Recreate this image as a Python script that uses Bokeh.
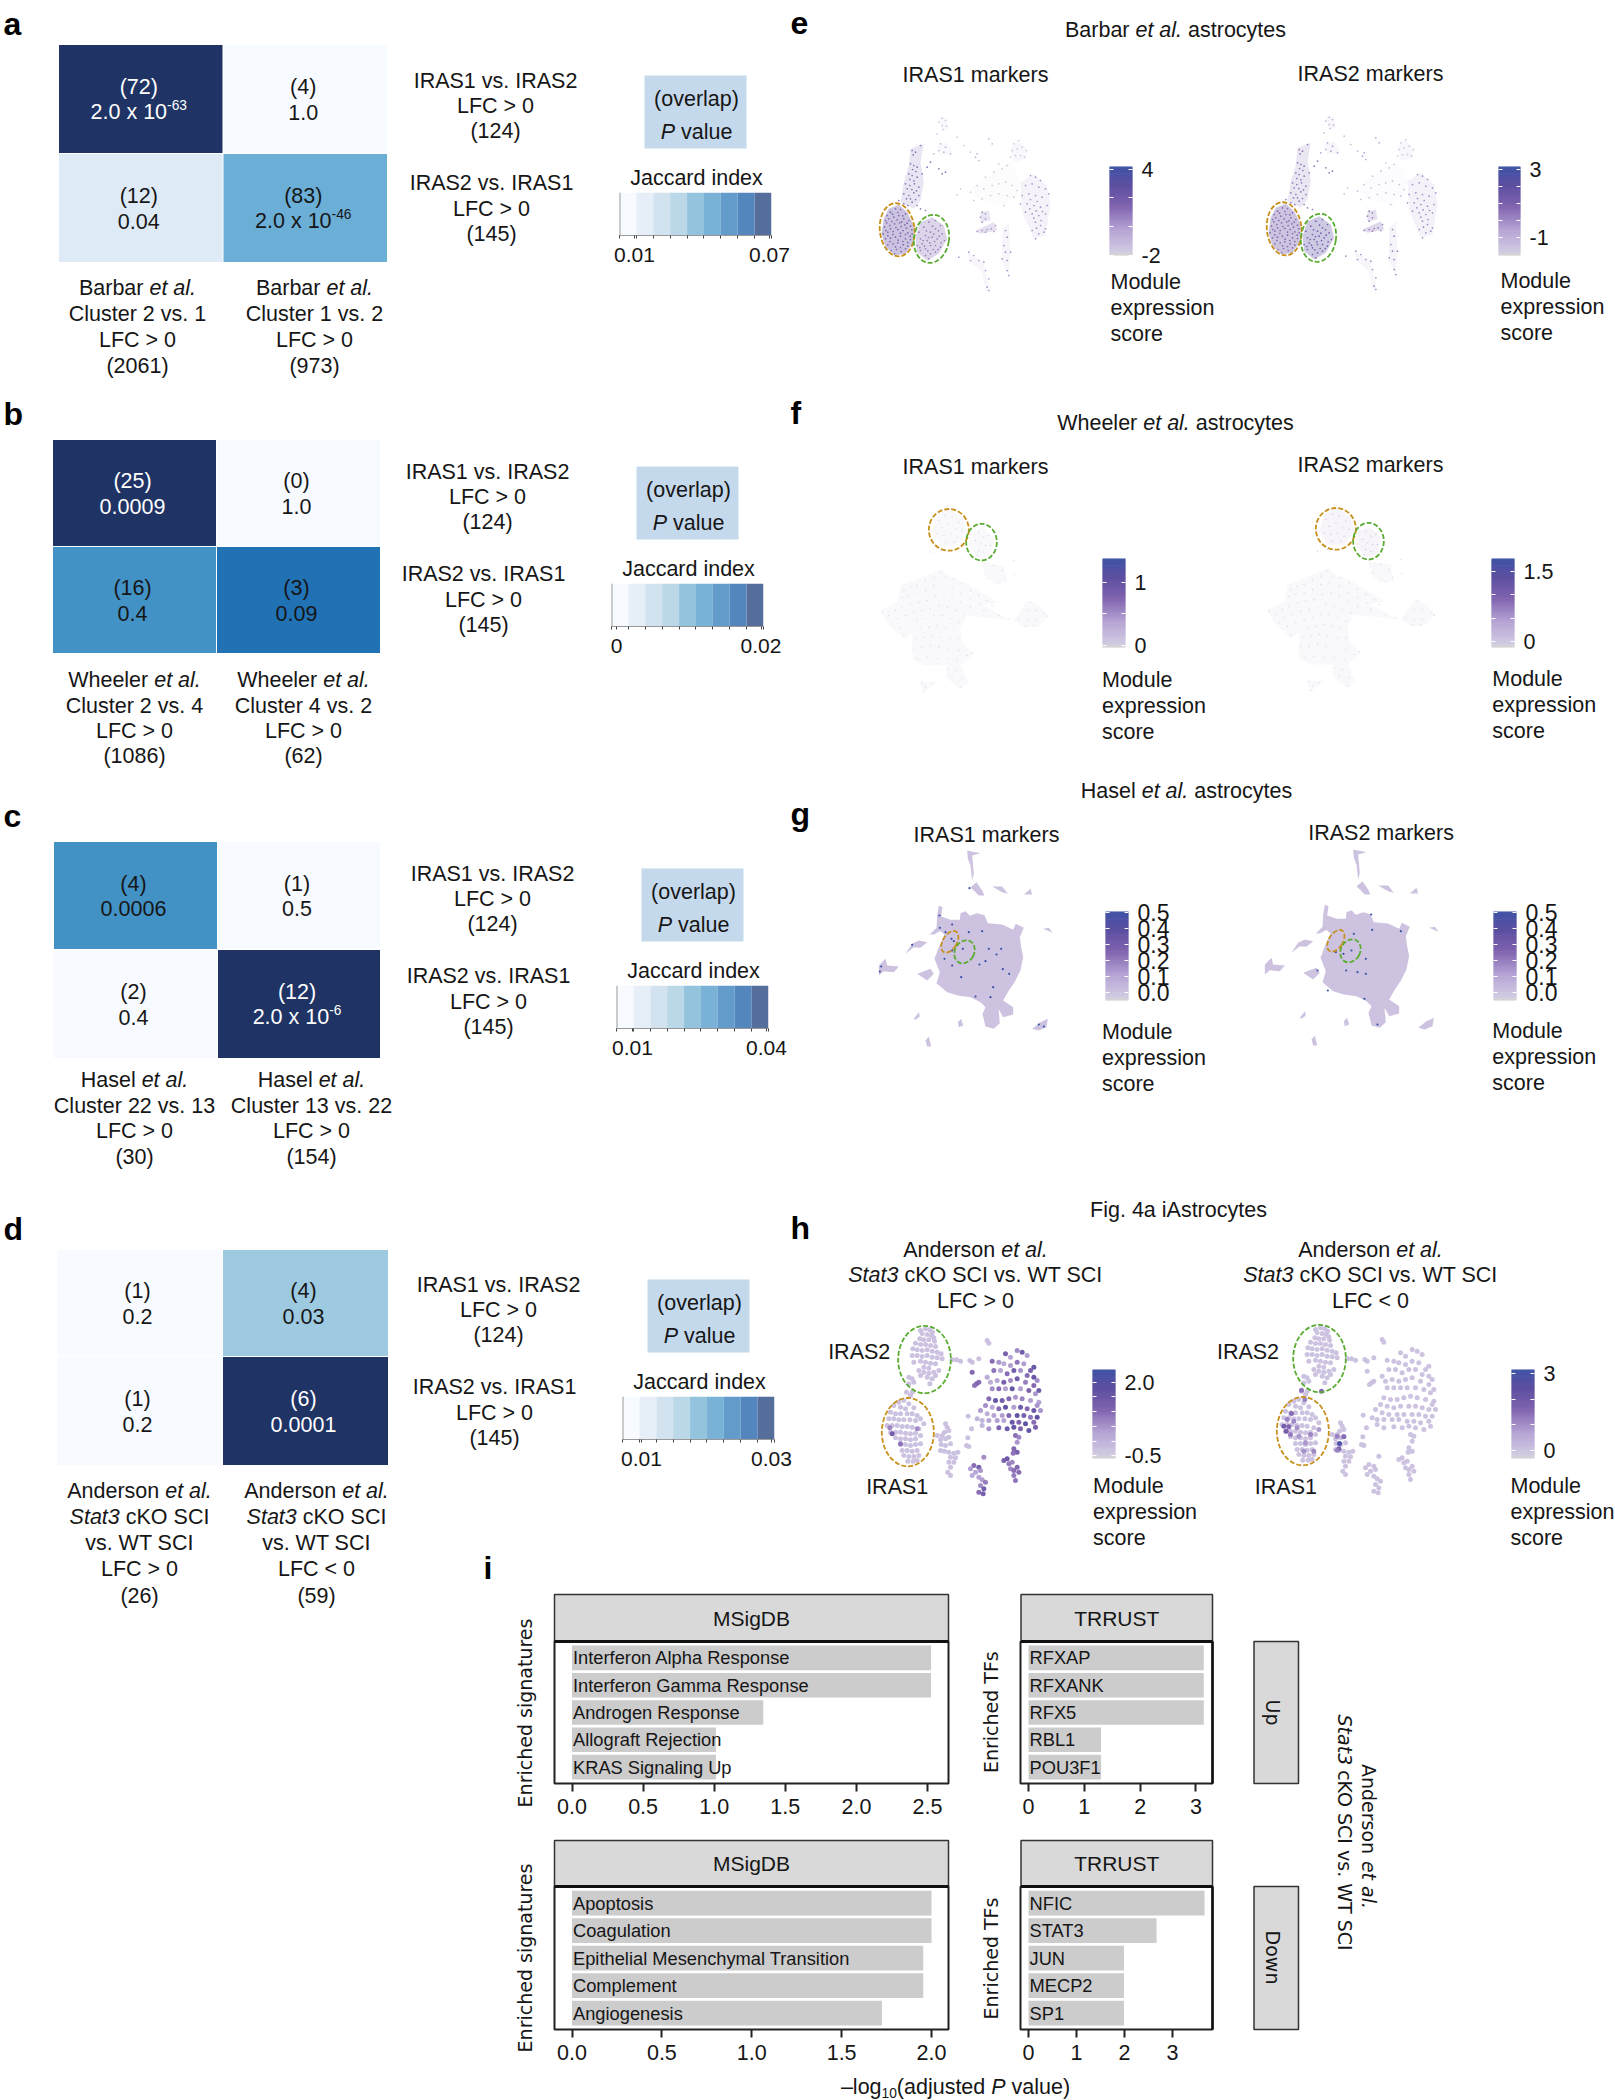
import math
from bokeh.core.properties import value
from bokeh.embed import file_html
from bokeh.layouts import column
from bokeh.models import (ColumnDataSource, FactorRange, FixedTicker, LinearAxis, LinearColorMapper,
                          Range1d)
from bokeh.plotting import figure
from bokeh.resources import INLINE
from bokeh.transform import transform

SANS = "Liberation Sans"
WIDE = "DejaVu Sans"
TXT = "#161616"

# ---------- heatmap data ----------
HEAT_A = ["#1f3464", "#f7fbff", "#deeaf6", "#6baed6"]
HEAT_B = ["#1f3464", "#f7fbff", "#4292c6", "#2171b5"]
HEAT_C = ["#4292c6", "#f7fbff", "#f7fbff", "#1f3464"]
HEAT_D = ["#f7fbff", "#9ecae1", "#f7fbff", "#1f3464"]
OVERLAP_A = ["(72)", "(4)", "(12)", "(83)"]
OVERLAP_B = ["(25)", "(0)", "(16)", "(3)"]
OVERLAP_C = ["(4)", "(1)", "(2)", "(12)"]
OVERLAP_D = ["(1)", "(4)", "(1)", "(6)"]
PVAL_A = [("2.0 x 10", "-63"), ("1.0", ""), ("0.04", ""), ("2.0 x 10", "-46")]
PVAL_B = [("0.0009", ""), ("1.0", ""), ("0.4", ""), ("0.09", "")]
PVAL_C = [("0.0006", ""), ("0.5", ""), ("0.4", ""), ("2.0 x 10", "-6")]
PVAL_D = [("0.2", ""), ("0.03", ""), ("0.2", ""), ("0.0001", "")]
JACCARD_STEPS = ["#f7fbff", "#e6eff7", "#d3e2ef", "#bad8e7", "#94c3de", "#79b2d6", "#639ccb", "#5286bd", "#566e9b"]

# ---------- bar data ----------
UP_SIG = ["Interferon Alpha Response", "Interferon Gamma Response", "Androgen Response", "Allograft Rejection", "KRAS Signaling Up"]
UP_SIG_V = [2.525, 2.525, 1.345, 1.012, 1.012]
UP_TF = ["RFXAP", "RFXANK", "RFX5", "RBL1", "POU3F1"]
UP_TF_V = [3.14, 3.14, 3.14, 1.30, 1.30]
DN_SIG = ["Apoptosis", "Coagulation", "Epithelial Mesenchymal Transition", "Complement", "Angiogenesis"]
DN_SIG_V = [2.0, 2.0, 1.954, 1.954, 1.724]
DN_TF = ["NFIC", "STAT3", "JUN", "MECP2", "SP1"]
DN_TF_V = [3.67, 2.67, 1.99, 1.99, 1.99]

# ---------- embeddings (in units of 1/3 px) ----------
BARBAR_REGIONS = {
 "r1": [(40,340),(55,310),(85,298),(110,320),(130,360),(128,410),(105,445),(75,450),(45,425),(33,385)],
 "r2": [(135,395),(150,350),(185,335),(220,360),(230,400),(205,445),(170,465),(140,440)],
 "r3": [(120,130),(160,115),(150,170),(160,230),(150,285),(130,310),(90,290),(100,230),(115,180)],
 "r4": [(450,230),(490,205),(530,240),(540,300),(525,390),(490,400),(455,320)],
 "r5": [(420,130),(440,105),(470,130),(465,160),(430,170)],
 "r6": [(205,40),(230,35),(235,70),(215,75)],
 "r7": [(200,120),(230,110),(250,145),(210,150)],
 "r8": [(330,320),(355,315),(360,345),(330,350)],
 "r8b": [(315,375),(370,350),(380,375),(330,385)],
 "r9": [(300,250),(380,190),(420,170),(450,230),(440,270),(400,300),(320,280)],
 "r10": [(290,440),(340,470),(350,520),(360,555),(345,555),(335,500),(300,470)],
 "r11": [(395,370),(415,350),(420,450),(415,510),(395,470)],
}
BARBAR_ALPHA = {"r1":0.36,"r2":0.3,"r3":0.16,"r4":0.1,"r5":0.12,"r6":0.1,"r7":0.08,"r8":0.22,"r8b":0.25,"r9":0.05,"r10":0.08,"r11":0.08}
BARBAR_PTS = {
 "r1": [(45,345),(60,320),(75,310),(90,312),(105,325),(55,340),(70,335),(85,330),(100,340),(115,345),(42,365),(58,360),(72,355),(88,352),(103,358),(120,362),(38,385),(52,380),(68,378),(82,372),(98,375),(112,382),(125,385),(45,400),(60,398),(75,395),(90,392),(105,400),(120,402),(52,418),(68,415),(82,412),(98,418),(112,422),(62,435),(78,432),(92,438),(72,445),(50,330),(66,326),(82,321),(97,331),(49,352),(64,348),(80,343),(94,349),(110,353),(46,375),(60,370),(76,366),(92,363),(108,368),(124,373),(52,391),(67,387),(90,383),(105,387),(119,392),(58,408),(83,404),(97,408),(112,411),(75,424),(90,426),(105,430)],
 "r2": [(145,380),(160,365),(175,350),(195,345),(210,360),(150,400),(165,390),(180,380),(195,370),(215,385),(140,420),(155,415),(170,405),(185,395),(200,400),(222,405),(150,435),(165,430),(180,420),(195,420),(210,425),(165,450),(180,445),(195,440),(175,460),(168,376),(186,362),(204,376),(158,405),(174,396),(190,386),(206,392),(148,426),(162,422),(178,412),(192,408),(212,412),(172,436),(188,432),(203,432)],
 "r3": [(125,135),(135,140),(150,120),(120,175),(130,180),(140,185),(115,205),(125,210),(140,215),(155,205),(105,235),(118,240),(132,235),(145,245),(100,265),(115,270),(130,262),(145,270),(85,285),(100,295),(125,290),(140,300),(150,310),(170,185),(180,170),(165,315),(205,190),(215,205),(225,200),(128,148),(126,192),(136,198),(118,222),(130,226),(110,250),(124,252),(138,256),(108,280),(120,280),(135,282),(112,300)],
 "r4": [(480,210),(495,215),(510,225),(465,240),(485,235),(505,245),(525,250),(455,270),(475,265),(495,270),(515,275),(535,265),(450,295),(470,295),(490,300),(510,305),(530,300),(465,320),(485,325),(505,330),(525,325),(495,350),(510,360),(525,370),(485,375),(505,385),(520,380),(495,400),(480,282),(500,288),(478,310),(497,316),(516,318),(490,338),(512,345),(498,368)],
 "r5": [(430,115),(445,105),(425,135),(440,130),(455,125),(468,135),(420,155),(435,150),(450,150),(462,155),(410,180),(385,175)],
 "r6": [(215,38),(225,45),(205,50),(215,60),(228,62),(218,72),(200,85),(260,95),(280,120),(300,140)],
 "r7": [(210,115),(225,125),(205,135),(220,140),(240,145),(190,145),(320,145),(315,155),(325,165),(355,100),(365,115)],
 "r8": [(335,320),(345,325),(330,335),(345,340),(335,350),(320,378),(335,375),(350,372),(362,370),(375,360),(345,380),(370,378)],
 "r9": [(300,260),(320,240),(345,215),(370,200),(395,190),(340,250),(365,240),(385,235),(405,230),(425,240),(310,285),(335,280),(360,270),(385,265),(410,270),(430,275),(440,255),(270,250),(260,268),(400,300)],
 "r10": [(295,440),(310,450),(325,465),(340,470),(300,465),(345,495),(355,520),(350,545),(355,555),(265,455)],
 "r11": [(405,375),(410,395),(400,420),(405,440),(395,460),(410,465),(420,440),(410,495),(415,510)],
}
BARBAR_S1 = {"r1":2.0,"r2":1.0,"r3":1.6,"r4":0.6,"r5":-1.2,"r6":-1.2,"r7":-0.3,"r8":0.4,"r8b":0.6,"r9":-1.2,"r10":0.4,"r11":0.8}
BARBAR_S2 = {"r1":1.1,"r2":1.8,"r3":0.8,"r4":0.3,"r5":-1.3,"r6":-0.8,"r7":-0.2,"r8":0.5,"r8b":0.8,"r9":-1.0,"r10":0.3,"r11":0.6}

WHEELER_REGIONS = {
 "w1": [(200,60),(235,40),(280,70),(290,110),(260,150),(210,150),(185,110)],
 "w2": [(300,110),(335,95),(370,130),(360,180),(325,190),(295,150)],
 "w3": [(215,220),(90,270),(80,320),(30,345),(50,385),(100,430),(125,415),(125,490),(160,510),(230,510),(225,545),(270,580),(295,560),(270,510),(310,475),(275,440),(270,400),(290,360),(420,375),(340,330),(380,320),(290,265),(225,235)],
 "w4": [(430,375),(470,315),(500,325),(535,360),(500,395),(460,395)],
 "w5": [(145,560),(200,560),(160,590)],
 "w6": [(330,200),(400,210),(410,260),(370,265),(345,240)],
}
WHEELER_PTS = {
 "w1": [(205,75),(225,60),(245,65),(265,80),(215,95),(235,85),(255,100),(275,105),(200,115),(220,120),(240,115),(260,125),(225,140),(250,140),(230,32),(210,165),(180,170)],
 "w2": [(325,110),(340,125),(355,120),(315,135),(330,145),(345,150),(360,150),(325,165),(340,170),(320,180)],
 "w3": [(100,285),(120,275),(140,270),(165,255),(190,245),(210,230),(225,245),(250,250),(275,265),(300,285),(325,300),(350,315),(95,305),(115,300),(140,295),(165,285),(190,270),(215,265),(245,275),(270,295),(300,310),(330,325),(365,330),(75,345),(95,335),(120,325),(145,320),(170,315),(195,300),(220,295),(245,305),(270,320),(300,335),(340,345),(385,360),(415,370),(35,350),(55,360),(80,370),(105,360),(130,350),(155,345),(180,340),(205,330),(230,335),(255,345),(280,355),(65,385),(90,395),(115,385),(140,375),(165,370),(190,360),(215,360),(240,370),(265,380),(100,420),(150,400),(175,395),(200,390),(225,395),(250,400),(135,430),(160,425),(185,420),(210,425),(240,430),(265,430),(130,460),(155,455),(180,450),(205,455),(235,460),(265,465),(290,480),(305,472),(140,490),(170,485),(200,490),(230,490),(260,495),(230,520),(255,525),(275,550),(245,545),(270,575)],
 "w4": [(480,320),(470,345),(495,345),(520,355),(445,370),(470,375),(495,375),(530,362),(465,392),(490,390)],
 "w5": [(155,560),(165,575),(185,565),(158,588)],
 "w6": [(345,235),(350,250),(370,210),(395,225),(385,262),(405,250),(432,238),(430,195)],
}
WHEELER_S1 = {"w1":0.06,"w2":0.08,"w3":0.02,"w4":0.02,"w5":0.02,"w6":0.02}
WHEELER_S2 = {"w1":0.3,"w2":0.28,"w3":0.0,"w4":0.0,"w5":0.0,"w6":0.0}

HASEL_REGIONS = {
 "main": [(205,195),(216,200),(212,228),(240,238),(268,238),(270,218),(285,212),(298,226),(320,218),(342,224),(352,248),(395,252),(428,268),(436,250),(460,262),(448,290),(452,320),(458,350),(450,390),(432,425),(415,450),(398,480),(428,500),(428,522),(398,530),(384,505),(388,548),(370,565),(345,558),(336,520),(345,500),(330,485),(300,470),(262,465),(230,455),(198,428),(208,395),(192,355),(205,320),(222,282),(198,262),(200,225)],
 "top": [(290,30),(330,38),(305,45),(310,100),(305,120),(300,75),(292,55)],
 "top2": [(300,140),(318,125),(335,150),(342,165),(325,165)],
 "right1": [(365,138),(395,138),(412,160),(395,155)],
 "right2": [(460,162),(480,145),(485,162)],
 "right3": [(518,265),(535,262),(546,277)],
 "arm": [(105,340),(125,310),(145,300),(170,305),(150,322),(130,320)],
 "leftbig": [(25,375),(45,355),(50,375),(85,378),(70,395),(40,392),(25,405)],
 "lowleft": [(140,400),(180,385),(190,400),(170,420)],
 "b1": [(130,535),(145,515),(148,528),(135,538)],
 "b2": [(262,545),(272,535),(278,555),(265,560)],
 "bottom": [(165,600),(175,588),(182,618),(170,618)],
 "br": [(485,565),(510,545),(532,535),(528,560),(505,570)],
 "link": [(178,282),(205,255),(212,270),(190,282)],
}
HASEL_DOTS_1 = [(297,143),(207,225),(208,262),(225,275),(245,252),(295,275),(335,272),(243,295),(250,302),(277,325),(245,330),(125,313),(355,325),(392,325),(378,342),(345,362),(327,372),(245,375),(397,386),(416,400),(272,410),(368,440),(315,468),(360,470),(505,552),(520,558),(32,378),(28,393),(222,355)]
HASEL_DOTS_2 = [(292,283),(344,225),(433,275),(285,333),(261,343),(238,338),(328,358),(269,393),(303,398),(328,403),(183,393),(214,453),(324,478),(363,555),(347,271)]

AND_IRAS2 = [(150,30),(165,25),(178,28),(186,35),(155,40),(170,42),(183,45),(190,52),(148,55),(160,58),(175,58),(192,62),(135,68),(150,72),(165,72),(180,75),(195,78),(127,85),(140,88),(155,90),(170,88),(185,92),(200,95),(212,100),(125,105),(140,105),(155,108),(170,105),(185,110),(200,112),(215,115),(130,125),(150,122),(165,125),(180,128),(195,130),(160,140),(175,143),(145,150),(160,155),(175,158),(190,155),(205,150),(150,165),(170,170),(185,175),(195,165),(115,170),(125,175),(130,185),(115,190),(178,190),(120,225),(125,215)]
AND_IRAS1 = [(100,240),(85,245),(115,250),(70,255),(90,260),(105,265),(130,262),(60,275),(75,280),(90,280),(110,280),(125,280),(140,285),(55,295),(70,295),(85,298),(100,298),(118,298),(135,300),(150,295),(160,310),(50,315),(65,315),(80,315),(95,318),(110,318),(125,320),(145,325),(60,335),(75,335),(90,335),(105,338),(120,340),(135,338),(75,352),(90,355),(105,355),(120,358),(135,355),(150,345),(90,372),(105,372),(120,375),(135,372),(150,370),(95,390),(110,390),(125,392),(140,390),(100,405),(115,408),(130,408),(145,405),(112,422),(128,422),(140,420)]
AND_SIDE = [(225,310),(230,320),(222,335),(235,330),(215,345),(200,345),(210,358),(225,355),(235,350),(212,372),(225,375),(240,370),(210,390),(222,392),(235,395),(250,398),(240,410),(255,412),(235,425),(250,425),(240,440),(232,455),(240,465),(262,395)]
AND_LINK = [(350,60),(355,68),(245,118),(258,118),(270,122),(298,120),(305,125),(325,115),(293,287),(292,352),(288,375),(295,378),(303,325),(108,215)]
AND_BIG = [(365,122,1.0),(385,125,0.5),(405,100,1.3),(420,110,0.3),(440,90,0.6),(455,95,1.5),(470,105,0.4),(490,140,1.6),(400,130,0.2),(420,135,0.4),(440,125,0.9),(460,130,0.4),(480,150,1.3),(350,170,0.2),(370,150,0.9),(390,150,0.3),(410,160,1.0),(430,150,1.4),(450,150,0.5),(470,165,1.0),(490,170,1.7),(500,180,0.6),(360,185,0.1),(380,180,0.3),(400,185,1.3),(420,180,0.6),(440,175,1.5),(465,185,0.8),(490,195,1.1),(505,210,1.4),(365,205,0.6),(385,205,1.0),(405,205,0.4),(425,205,1.7),(450,205,0.4),(475,210,1.2),(495,220,0.5),(505,245,0.3),(355,235,1.0),(375,240,1.7),(395,240,1.4),(415,235,1.1),(435,230,0.5),(455,235,0.7),(480,240,0.4),(500,255,0.5),(345,255,0.6),(365,260,0.2),(385,265,1.0),(405,260,1.8),(430,260,0.4),(450,260,1.5),(470,265,1.1),(490,270,1.6),(510,270,0.5),(330,270,0.4),(350,280,0.1),(370,285,0.3),(395,285,0.4),(415,285,1.1),(440,285,1.7),(460,285,1.3),(480,290,0.9),(500,290,1.8),(320,295,0.0),(335,300,0.0),(355,300,0.3),(380,300,0.4),(400,300,0.3),(425,305,1.6),(445,305,1.2),(465,310,1.8),(490,305,1.0),(335,315,0.0),(355,325,0.5),(385,322,1.2),(410,325,1.5),(430,320,1.7),(450,325,1.2),(475,330,1.7),(495,320,1.3)]
AND_LOWER = [(435,345,1.0),(445,350,0.7),(440,365,0.5),(430,385,1.1),(440,395,1.3),(428,398,0.9),(410,415,1.6),(400,420,1.3),(415,430,0.8),(425,425,0.7),(420,445,0.6),(430,450,1.0),(440,440,1.1),(445,455,1.0),(430,465,0.8),(435,480,0.9),(340,410,0.6),(310,435,1.0),(325,440,1.4),(300,445,0.4),(330,450,0.5),(315,455,0.3),(305,465,0.2),(325,470,0.3),(335,478,0.4),(345,485,0.8),(330,495,0.6),(340,505,1.4),(325,515,1.0),(338,520,1.3),(305,155,1.1),(318,190,1.2),(325,185,1.0),(312,195,0.9)]
AND_HI_LEFT = [(65,340,1.4),(90,370,0.9),(58,322,0.7),(140,325,0.6)]
AND_HI_RIGHT = [(65,300,1.2),(78,282,1.5),(55,320,2.0),(70,322,1.7),(85,305,1.1),(62,335,1.9),(75,345,1.3),(95,325,1.0),(100,350,0.9),(120,370,0.9),(135,345,1.1),(145,395,1.1),(160,330,0.9),(215,350,1.2),(222,372,2.9),(220,388,1.8),(235,352,1.5),(215,392,1.2),(115,395,1.0),(108,212,1.4),(168,215,1.6),(118,240,1.2)]

GRADIENT_STOPS = [(0.0,(211,211,211)),(0.05,(208,200,226)),(0.3,(178,160,210)),(0.55,(126,96,174)),(0.8,(88,74,158)),(1.0,(60,80,165))]


def grad(n=128):
    out = []
    for i in range(n):
        t = i / (n - 1)
        for (t0, c0), (t1, c1) in zip(GRADIENT_STOPS, GRADIENT_STOPS[1:]):
            if t <= t1:
                f = (t - t0) / (t1 - t0)
                out.append("#%02x%02x%02x" % tuple(round(a + (b - a) * f) for a, b in zip(c0, c1)))
                break
    return out


PALETTE = grad()
HELV = {" ":278,"(":333,")":333,".":278,",":278,"-":333,">":584,"<":584,"–":556}
for ch in "0123456789": HELV[ch] = 556
HELV.update(dict(A=667,B=667,C=722,D=722,E=667,F=611,G=778,H=722,I=278,J=500,K=667,L=556,M=833,N=722,O=778,P=667,Q=778,R=722,S=667,T=611,U=722,V=667,W=944,X=667,Y=667,Z=611))
HELV.update(dict(a=556,b=556,c=500,d=556,e=556,f=278,g=556,h=556,i=222,j=222,k=500,l=222,m=833,n=556,o=556,p=556,q=556,r=333,s=500,t=278,u=556,v=500,w=722,x=500,y=500,z=500))
LEFT_PAD = 30  # Bokeh keeps at least this much room left of a frame here


def tw(s, size):
    return sum(HELV.get(c, 556) for c in s) * size / 1000


def base(w, h, xr, yr, **kw):
    # w, h: size of the plotting frame in pixels
    kw["min_border_left"] = LEFT_PAD
    for k in ("right", "top", "bottom"):
        kw.setdefault("min_border_" + k, 0)
    p = figure(frame_width=w, frame_height=h, x_range=xr, y_range=yr, toolbar_location=None, output_backend="svg", **kw)
    p.grid.visible = False
    p.background_fill_alpha = 0
    p.border_fill_alpha = 0
    p.outline_line_color = None
    return p


def place(p, x, y):
    # x, y: page position of the top left corner of the frame
    p.styles = {"position": "absolute", "left": f"{round(x) - LEFT_PAD}px", "top": f"{round(y)}px", "max-width": "none", "max-height": "none"}
    return p


figs = []
canvas = base(1615, 2100, Range1d(0, 1615), Range1d(2100, 0), x_axis_type=None, y_axis_type=None)
place(canvas, 0, 0)


def text(x, y, s, size=21.5, color=TXT, font=SANS, style="normal", align="center", angle=0, baseline="middle"):
    canvas.text([x], [y], text=[s], text_font=value(font), text_font_size=f"{size}px", text_color=color,
                text_font_style=style, text_align=align, text_baseline=baseline, angle=angle)


def rich(x, y, segs, size=21.5, color=TXT, font=SANS, angle=0, scale=1.0):
    """segs: (text, style[, 'sup'|'sub'])"""
    sizes = [size * 0.64 if len(s) > 2 else size for s in segs]
    widths = [tw(s[0], z) * scale for s, z in zip(segs, sizes)]
    total = sum(widths)
    ca, sa = math.cos(angle), math.sin(angle)
    pos = -total / 2
    for s, z, w in zip(segs, sizes, widths):
        dy = 0
        if len(s) > 2:
            dy = -size * 0.34 if s[2] == "sup" else size * 0.3
        label = s[0]
        lead = tw(label[:len(label) - len(label.lstrip())], z) * scale
        text(x + (pos + lead) * ca, y - (pos + lead) * sa + dy, label.strip(), z, color, font, s[1], "left", angle)
        pos += w


def lines(x, ys, items, **kw):
    for y, it in zip(ys, items):
        if isinstance(it, str):
            text(x, y, it, **kw)
        else:
            rich(x, y, it, **kw)


ET_AL = ("et al.", "italic")


def heat(x0, x1, xm, y0, y1, ym, colors, overlaps, pvals, dark):
    wl, wr = xm - x0, x1 - xm
    p = place(base(round(x1 - x0), round(y1 - y0), Range1d(0, x1 - x0), Range1d(y1 - y0, 0), x_axis_type=None, y_axis_type=None), x0, y0)
    src = ColumnDataSource(dict(
        cx=[wl / 2, wl + wr / 2, wl / 2, wl + wr / 2],
        cy=[(ym - y0) / 2, (ym - y0) / 2, (ym - y0) + (y1 - ym) / 2, (ym - y0) + (y1 - ym) / 2],
        w=[wl - 1, wr - 1, wl - 1, wr - 1],
        h=[ym - y0 - 1, ym - y0 - 1, y1 - ym - 1, y1 - ym - 1],
        c=colors))
    p.rect("cx", "cy", "w", "h", fill_color="c", line_color=None, source=src)
    figs.append(p)
    cxs = [x0 + wl / 2 - 2, xm + wr / 2 - 2]
    cys = [y0 + (ym - y0) / 2, ym + (y1 - ym) / 2]
    for i, (ov, pv) in enumerate(zip(overlaps, pvals)):
        cx, cy = cxs[i % 2], cys[i // 2]
        col = "#ffffff" if i in dark else TXT
        text(cx, cy - 12, ov, color=col)
        if pv[1]:
            rich(cx, cy + 13, [(pv[0], "normal"), (pv[1], "normal", "sup")], color=col)
        else:
            text(cx, cy + 13, pv[0], color=col)


def side_group(dx, dy, ticks, labels):
    # comparison text, P-value key and Jaccard legend, with positions relative to panel a
    lines(495 + dx, [80 + dy, 105 + dy, 130 + dy], ["IRAS1 vs. IRAS2", "LFC > 0", "(124)"])
    lines(491 + dx, [182 + dy, 208 + dy, 233 + dy], ["IRAS2 vs. IRAS1", "LFC > 0", "(145)"])
    canvas.quad(left=[644 + dx], right=[746 + dx], top=[75 + dy], bottom=[148 + dy], fill_color="#c5d9ec", line_color=None)
    text(696 + dx, 98 + dy, "(overlap)")
    rich(696 + dx, 131 + dy, [("P", "italic"), (" value", "normal")])
    text(696 + dx, 177 + dy, "Jaccard index")
    x0, x1 = 619 + dx, 771 + dx
    y0, y1 = 192 + dy, 235 + dy
    lo, hi = ticks
    plo, phi = labels
    per = (hi - lo) / (phi - plo)
    start = lo + (x0 - plo) * per
    end = lo + (x1 - plo) * per
    edges = [start + (end - start) * i / 9 for i in range(10)]
    p = base(round(x1 - x0), round(y1 - y0), Range1d(start, end), Range1d(0, 1), x_axis_type=None, y_axis_type=None,
             min_border_right=30, min_border_top=0, min_border_bottom=40)
    p.quad(left=edges[:-1], right=edges[1:], top=1, bottom=0, fill_color=JACCARD_STEPS, line_color=None)
    ax = LinearAxis(ticker=FixedTicker(ticks=[lo, hi], minor_ticks=edges), axis_line_color="#999999", axis_line_width=1,
                    major_tick_out=3, major_tick_in=0, minor_tick_out=3, minor_tick_in=0, major_tick_line_color="#444444",
                    minor_tick_line_color="#444444", major_label_text_font=SANS, major_label_text_font_size="21px",
                    major_label_text_color=TXT, major_label_standoff=9,
                    major_label_overrides={lo: ("%g" % lo), hi: ("%g" % hi)})
    p.add_layout(ax, "below")
    p.line([start, start], [0, 1], line_color="#999999", line_width=2)
    place(p, x0, y0)
    figs.append(p)


heat(58, 387, 222.5, 44, 262, 153, HEAT_A, OVERLAP_A, PVAL_A, {0})
side_group(0, 0, (0.01, 0.07), (634, 769))
lines(137, [287, 313, 339, 365], [[("Barbar ", "normal"), ET_AL], "Cluster 2 vs. 1", "LFC > 0", "(2061)"])
lines(314, [287, 313, 339, 365], [[("Barbar ", "normal"), ET_AL], "Cluster 1 vs. 2", "LFC > 0", "(973)"])

heat(52, 380, 216, 439, 653, 546, HEAT_B, OVERLAP_B, PVAL_B, {0})
side_group(-8, 391, (0.0, 0.02), (616, 760.5))
lines(134, [679, 705, 730, 755], [[("Wheeler ", "normal"), ET_AL], "Cluster 2 vs. 4", "LFC > 0", "(1086)"])
lines(303, [679, 705, 730, 755], [[("Wheeler ", "normal"), ET_AL], "Cluster 4 vs. 2", "LFC > 0", "(62)"])

heat(53, 380, 217, 841, 1058, 949, HEAT_C, OVERLAP_C, PVAL_C, {3})
side_group(-3, 793, (0.01, 0.04), (632, 766))
lines(134, [1079, 1105, 1130, 1156], [[("Hasel ", "normal"), ET_AL], "Cluster 22 vs. 13", "LFC > 0", "(30)"])
lines(311, [1079, 1105, 1130, 1156], [[("Hasel ", "normal"), ET_AL], "Cluster 13 vs. 22", "LFC > 0", "(154)"])

heat(56, 388, 222, 1249, 1465, 1356, HEAT_D, OVERLAP_D, PVAL_D, {3})
side_group(3, 1204, (0.01, 0.03), (641, 771))
stat = [("Stat3", "italic"), (" cKO SCI", "normal")]
lines(139, [1490, 1516, 1542, 1568, 1595], [[("Anderson ", "normal"), ET_AL], stat, "vs. WT SCI", "LFC > 0", "(26)"])
lines(316, [1490, 1516, 1542, 1568, 1595], [[("Anderson ", "normal"), ET_AL], stat, "vs. WT SCI", "LFC < 0", "(59)"])

for letter, x, y in [("a", 3, 23), ("b", 3, 413), ("c", 3, 815), ("d", 3, 1228), ("e", 790, 22), ("f", 790, 412), ("g", 790, 813), ("h", 790, 1227), ("i", 483, 1567)]:
    text(x, y, letter, 32, "#000000", SANS, "bold", "left", 0, "alphabetic")


def cbar(x0, x1, y0, y1, vlow, vhigh, ticks, labels, size=21.5):
    w, h = round(x1 - x0), round(y1 - y0)
    p = base(w, h, Range1d(0, 1), Range1d(vlow, vhigh), x_axis_type=None, y_axis_type=None,
             min_border_right=60, min_border_top=20, min_border_bottom=20)
    n = len(PALETTE)
    edges = [vlow + (vhigh - vlow) * i / n for i in range(n + 1)]
    p.quad(left=0, right=1, bottom=edges[:-1], top=edges[1:], fill_color=PALETTE, line_color=PALETTE, line_width=0.5)
    over = {t: (labels.get(t, "")) for t in ticks}
    ar = LinearAxis(ticker=FixedTicker(ticks=ticks), axis_line_color=None, major_tick_in=4, major_tick_out=0, major_tick_line_color="#ffffff",
                    major_tick_line_width=1, major_label_text_font=SANS, major_label_text_font_size=f"{size}px", major_label_text_color=TXT,
                    major_label_standoff=9, major_label_overrides=over)
    al = LinearAxis(ticker=FixedTicker(ticks=ticks), axis_line_color=None, major_tick_in=4, major_tick_out=0, major_tick_line_color="#ffffff",
                    major_label_text_font_size="0px", major_label_standoff=0, major_label_overrides={t: "" for t in ticks})
    p.add_layout(ar, "right")
    p.add_layout(al, "left")
    place(p, x0, y0 - 20)
    figs.append(p)


def mes(x, y):
    lines(x, [y, y + 26, y + 52], ["Module", "expression", "score"], align="left")


def umap(x, y, w, h, regions, rscores, pts, vmin, vmax, size=1.7, alpha=0.85, ralpha=None, ellipses=()):
    p = place(base(w, h, Range1d(0, w * 3), Range1d(h * 3, 0), x_axis_type=None, y_axis_type=None), x, y)
    mapper = LinearColorMapper(palette=PALETTE, low=vmin, high=vmax)
    if regions:
        names = list(regions)
        al = [ralpha[n] if isinstance(ralpha, dict) else ralpha for n in names]
        src = ColumnDataSource(dict(xs=[[q[0] for q in regions[n]] for n in names], ys=[[q[1] for q in regions[n]] for n in names],
                                    s=[rscores[n] for n in names], a=al))
        p.patches("xs", "ys", source=src, fill_color=transform("s", mapper), fill_alpha="a", line_color=None)
    src = ColumnDataSource(dict(x=[q[0] for q in pts], y=[q[1] for q in pts], s=[q[2] for q in pts]))
    p.scatter("x", "y", source=src, size=size, color=transform("s", mapper), alpha=alpha, line_color=None)
    for (cx, cy, ew, eh, ang, col) in ellipses:
        p.ellipse([cx], [cy], width=ew, height=eh, angle=ang, fill_color=None, line_color=col, line_width=1.8, line_dash="5 2")
    figs.append(p)


ORANGE, GREEN = "#c8901c", "#5aac33"


def flat(ptsd, scores):
    out = []
    for k, v in ptsd.items():
        out += [(a, b, scores[k]) for a, b in v]
    return out


# panel e
rich(1175, 29, [("Barbar ", "normal"), ET_AL, (" astrocytes", "normal")])
text(975, 74, "IRAS1 markers"); text(1370, 73, "IRAS2 markers")
e_ell = [(80, 373, 104, 160, 0.1, ORANGE), (183, 400, 105, 145, -0.15, GREEN)]
umap(870, 105, 200, 200, BARBAR_REGIONS, BARBAR_S1, flat(BARBAR_PTS, BARBAR_S1), -2, 4.19, ralpha=BARBAR_ALPHA, ellipses=e_ell)
umap(1257, 104, 200, 200, BARBAR_REGIONS, BARBAR_S2, flat(BARBAR_PTS, BARBAR_S2), -2.02, 3.15, ralpha=BARBAR_ALPHA, ellipses=e_ell)
cbar(1108.7, 1131.6, 165.7, 254.3, -2.0, 4.19, [4, 2, 0, -2], {4: "4", -2: "-2"})
cbar(1497.5, 1519.8, 165.7, 255, -2.02, 3.15, [3, 2, 1, 0, -1], {3: "3", -1: "-1"})
mes(1110, 281); mes(1500, 280)

# panel f
rich(1175, 422, [("Wheeler ", "normal"), ET_AL, (" astrocytes", "normal")])
text(975, 466, "IRAS1 markers"); text(1370, 464, "IRAS2 markers")
f_ell = [(235, 103, 120, 125, 0, ORANGE), (333, 140, 92, 110, 0, GREEN)]
umap(870, 495, 200, 200, WHEELER_REGIONS, WHEELER_S1, flat(WHEELER_PTS, WHEELER_S1), -0.04, 1.39, size=1.4, alpha=0.65, ralpha=0.12, ellipses=f_ell)
umap(1257, 494, 200, 200, WHEELER_REGIONS, WHEELER_S2, flat(WHEELER_PTS, WHEELER_S2), -0.137, 1.79, size=1.4, alpha=0.65, ralpha=0.12, ellipses=f_ell)
cbar(1102, 1124.8, 558, 647, -0.04, 1.39, [1, 0.5, 0], {1: "1", 0: "0"})
cbar(1490.7, 1513.6, 558, 647, -0.137, 1.79, [1.5, 1, 0.5, 0], {1.5: "1.5", 0: "0"})
mes(1101.5, 679); mes(1491.8, 678)

# panel g
rich(1186, 790, [("Hasel ", "normal"), ET_AL, (" astrocytes", "normal")])
text(986, 834, "IRAS1 markers"); text(1380.6, 832, "IRAS2 markers")
g_ell = [(238, 304, 42, 72, -0.55, ORANGE), (282, 334, 58, 72, -0.5, GREEN)]
hasel_s = {k: 0.0 for k in HASEL_REGIONS}
umap(870, 840, 200, 210, HASEL_REGIONS, hasel_s, [(a, b, 0.5) for a, b in HASEL_DOTS_1], -0.047, 0.504, size=2.2, alpha=1, ralpha=1, ellipses=g_ell)
umap(1256, 839, 200, 210, HASEL_REGIONS, hasel_s, [(a, b, 0.5) for a, b in HASEL_DOTS_2], -0.047, 0.504, size=2.2, alpha=1, ralpha=1, ellipses=g_ell)
hl = {0.5: "0.5", 0.4: "0.4", 0.3: "0.3", 0.2: "0.2", 0.1: "0.1", 0.0: "0.0"}
cbar(1104.6, 1127.4, 911, 1000, -0.047, 0.504, [0.5, 0.4, 0.3, 0.2, 0.1, 0.0], hl, size=23)
cbar(1492.8, 1515.7, 911, 1000, -0.047, 0.504, [0.5, 0.4, 0.3, 0.2, 0.1, 0.0], hl, size=23)
mes(1101.5, 1031); mes(1491.8, 1030)

# panel h
text(1178, 1209, "Fig. 4a iAstrocytes")
and_head = [("Anderson ", "normal"), ET_AL]
and_sub = [("Stat3", "italic"), (" cKO SCI vs. WT SCI", "normal")]
lines(975, [1249, 1274, 1300], [and_head, and_sub, "LFC > 0"])
lines(1370, [1249, 1274, 1300], [and_head, and_sub, "LFC < 0"])
text(858.7, 1351, "IRAS2"); text(896.7, 1486, "IRAS1"); text(1247.5, 1351, "IRAS2"); text(1285.4, 1486, "IRAS1")
h_ell = [(162, 117, 158, 202, 0, GREEN), (112, 335, 156, 205, 0, ORANGE)]
left_pts = ([(a, b, -0.25) for a, b in AND_IRAS2 + AND_IRAS1 + AND_SIDE + AND_LINK] + AND_BIG + AND_LOWER + AND_HI_LEFT)
right_pts = ([(a, b, 0.05) for a, b in AND_IRAS2 + AND_IRAS1 + AND_SIDE + AND_LINK]
             + [(a, b, 0.05) for a, b, _ in AND_BIG + AND_LOWER] + AND_HI_RIGHT)
umap(870, 1320, 180, 190, None, None, left_pts, -0.59, 2.43, size=5, alpha=0.95, ellipses=h_ell)
umap(1265, 1319, 180, 190, None, None, right_pts, -0.32, 3.156, size=5, alpha=0.95, ellipses=h_ell)
cbar(1091.6, 1114.4, 1369, 1458.3, -0.59, 2.43, [2.0, 1.5, 1.0, 0.5, 0.0, -0.5], {2.0: "2.0", -0.5: "-0.5"})
cbar(1511, 1533.9, 1369, 1458.3, -0.32, 3.156, [3, 2, 1, 0], {3: "3", 0: "0"})
mes(1092.6, 1485); mes(1510, 1485)


def bars(x0, x1, y0, y1, names, vals, tick0, tick_last, last_val, ticks, labels, thick_right=False):
    per = (tick_last - tick0) / last_val
    xr = Range1d((x0 - tick0) / per, (x1 - tick0) / per)
    yr = FactorRange(factors=list(reversed(names)), range_padding=0.04)
    p = base(round(x1 - x0), round(y1 - y0), xr, yr, y_axis_type=None, x_axis_type=None,
             min_border_right=30, min_border_top=0, min_border_bottom=50)
    p.hbar(y=names, right=vals, left=0, height=0.9, fill_color="#cccccc", line_color=None)
    p.text(x=[0] * 5, y=names, text=names, x_offset=1, text_font=value(SANS), text_font_size="18.3px", text_color=TXT,
           text_baseline="middle", text_align="left")
    ax = LinearAxis(ticker=FixedTicker(ticks=ticks), axis_line_color=None, major_tick_in=0, major_tick_out=8, major_tick_line_color="#222222",
                    major_tick_line_width=2, major_label_text_font=SANS, major_label_text_font_size="21.5px", major_label_text_color=TXT,
                    major_label_standoff=7, major_label_overrides=labels)
    p.add_layout(ax, "below")
    p.outline_line_color = "#222222"
    p.outline_line_width = 2
    place(p, x0, y0)
    figs.append(p)
    if thick_right:
        canvas.line([x1, x1], [y0, y1], line_color="#111111", line_width=2.5)
    canvas.line([x0, x1], [y0, y0], line_color="#111111", line_width=3)


def strip(x0, x1, y0, y1, label):
    canvas.quad(left=[x0], right=[x1], top=[y0], bottom=[y1], fill_color="#d9d9d9", line_color="#333333", line_width=1.5)
    text((x0 + x1) / 2, (y0 + y1) / 2, label, 21)


for name, y0, y1 in [("up", 1594, 1641), ("down", 1840, 1886)]:
    strip(554, 948, y0, y1, "MSigDB")
    strip(1020.5, 1212, y0, y1, "TRRUST")

lab1 = {0: "0.0", 0.5: "0.5", 1: "1.0", 1.5: "1.5", 2: "2.0", 2.5: "2.5"}
bars(554, 948, 1641, 1783, UP_SIG, UP_SIG_V, 571.5, 927, 2.5, [0, 0.5, 1, 1.5, 2, 2.5], lab1)
bars(1020.5, 1212, 1641, 1783, UP_TF, UP_TF_V, 1028.5, 1195.5, 3, [0, 1, 2, 3], {0: "0", 1: "1", 2: "2", 3: "3"}, True)
bars(554, 948, 1886, 2029, DN_SIG, DN_SIG_V, 571.5, 931, 2.0, [0, 0.5, 1, 1.5, 2], lab1)
bars(1020.5, 1212, 1886, 2029, DN_TF, DN_TF_V, 1028.5, 1172, 3, [0, 1, 2, 3], {0: "0", 1: "1", 2: "2", 3: "3"}, True)

for y, lab, x in [(1712.5, "Enriched signatures", 524), (1957.5, "Enriched signatures", 524), (1711.7, "Enriched TFs", 990.6), (1958, "Enriched TFs", 990.6)]:
    text(x, y, lab, 19, TXT, WIDE, "normal", "center", math.pi / 2)

canvas.quad(left=[1253.5, 1253.5], right=[1298, 1298], top=[1641, 1886], bottom=[1783, 2029], fill_color="#d9d9d9", line_color="#333333", line_width=1.5)
text(1272, 1712, "Up", 19, TXT, WIDE, "normal", "center", -math.pi / 2)
text(1272, 1957, "Down", 19, TXT, WIDE, "normal", "center", -math.pi / 2)
rich(1368, 1835, [("Anderson ", "normal"), ET_AL], 19, TXT, WIDE, -math.pi / 2, 1.12)
rich(1344, 1840, [("Stat3", "italic"), (" cKO SCI vs. WT SCI", "normal")], 19, TXT, WIDE, -math.pi / 2, 1.12)

rich(955, 2086, [("–log", "normal"), ("10", "normal", "sub"), ("(adjusted ", "normal"), ("P", "italic"), (" value)", "normal")])

root = column(*figs, canvas, width=1599, height=2084, styles={"position": "relative"})
open("out.html", "w").write(file_html(root, INLINE))
